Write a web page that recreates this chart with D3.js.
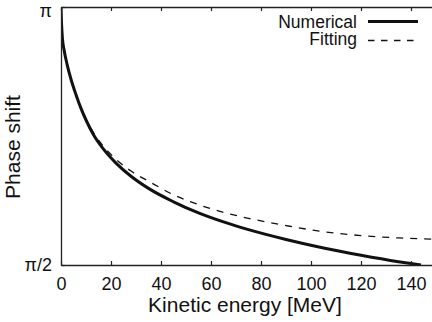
<!DOCTYPE html>
<html>
<head>
<meta charset="utf-8">
<script src="https://cdn.jsdelivr.net/npm/d3@7"></script>
<style>
  body { margin: 0; background: #fff; }
  text { font-family: "Liberation Sans", Arial, sans-serif; fill: #111; }
</style>
</head>
<body>
<div id="chart"></div>
<script>
// values (energy in MeV, phase in rad)
const energyNumerical = [0, 0.2, 0.6, 1.2, 2.5, 4, 6, 8, 10, 13, 17, 22, 28, 35, 45, 55, 65, 75, 90, 105, 120, 135, 144];
const phaseNumerical = [3.1416, 3.0474, 2.9453, 2.8824, 2.7882, 2.7018, 2.6075, 2.5243, 2.4536, 2.3641, 2.2761, 2.1913, 2.1112, 2.0373, 1.9557, 1.8881, 1.8331, 1.7860, 1.7263, 1.6745, 1.6305, 1.5912, 1.5708];

const energyFitting = [0, 0.2, 0.6, 1.2, 2.5, 4, 6, 8, 10, 13, 17, 22, 28, 35, 45, 55, 65, 75, 90, 105, 120, 135, 150];
const phaseFitting = [3.1416, 3.0474, 2.9453, 2.8824, 2.7882, 2.7018, 2.6091, 2.5274, 2.4599, 2.3766, 2.2934, 2.2148, 2.1426, 2.0813, 1.9981, 1.9384, 1.8912, 1.8551, 1.8111, 1.7734, 1.7499, 1.7357, 1.7272];

const xTicks = [0, 20, 40, 60, 80, 100, 120, 140];
const yTicks = [Math.PI / 2, Math.PI];
const yTickLabels = ['π/2', 'π'];

const seriesNames = ['Numerical', 'Fitting'];

const width = 432, height = 322;
const margin = {left: 61, top: 7, right: -4, bottom: 57};

let svg = d3.select('#chart').append('svg')
  .attr('width', width)
  .attr('height', height);

let x = d3.scaleLinear().domain([0, 150]).range([margin.left, width - margin.right]);
let y = d3.scaleLinear().domain([Math.PI / 2, Math.PI]).range([height - margin.bottom, margin.top]);

svg.append('clipPath').attr('id', 'plot')
  .append('rect')
  .attr('x', x(0)).attr('y', y(Math.PI))
  .attr('width', x(150) - x(0)).attr('height', y(Math.PI / 2) - y(Math.PI));

let line = d3.line()
  .x(d => x(d[0]))
  .y(d => y(d[1]))
  .curve(d3.curveMonotoneX);

let numerical = energyNumerical.map((e, i) => [e, phaseNumerical[i]]);
let fitting = energyFitting.map((e, i) => [e, phaseFitting[i]]);

svg.append('path')
  .datum(fitting)
  .attr('clip-path', 'url(#plot)')
  .attr('d', line)
  .style('fill', 'none')
  .style('stroke', '#111')
  .style('stroke-width', 1.3)
  .style('stroke-dasharray', '7,7');

svg.append('path')
  .datum(numerical)
  .attr('clip-path', 'url(#plot)')
  .attr('d', line)
  .style('fill', 'none')
  .style('stroke', '#111')
  .style('stroke-width', 3);

// axes: ticks point inward, mirrored on top
svg.append('g')
  .attr('transform', 'translate(0,' + y(Math.PI / 2) + ')')
  .call(d3.axisBottom(x).tickValues(xTicks).tickSize(-4).tickSizeOuter(0).tickPadding(12));

svg.append('g')
  .attr('transform', 'translate(0,' + y(Math.PI) + ')')
  .call(d3.axisTop(x).tickValues(xTicks).tickSize(-4).tickSizeOuter(0).tickFormat(''));

let left = svg.append('g')
  .attr('transform', 'translate(' + x(0) + ',0)')
  .call(d3.axisLeft(y).tickValues(yTicks).tickSize(-4).tickSizeOuter(0).tickPadding(9)
    .tickFormat((d, i) => yTickLabels[i]));
left.selectAll('.tick text').filter((d, i) => i == 1).attr('dy', '0.5em');

svg.selectAll('.domain').style('stroke', '#222').style('stroke-width', 1.3);
svg.selectAll('.tick line').style('stroke', '#222').style('stroke-width', 1.2);
svg.selectAll('.tick text').style('font-size', '18px').style('fill', '#111');

svg.append('text')
  .text('Kinetic energy [MeV]')
  .attr('x', 245)
  .attr('y', 312)
  .style('text-anchor', 'middle')
  .style('font-size', '21px');

svg.append('text')
  .text('Phase shift')
  .attr('transform', 'translate(20,147) rotate(-90)')
  .style('text-anchor', 'middle')
  .style('font-size', '21px');

// legend
let legend = svg.append('g').attr('transform', 'translate(357,0)');
seriesNames.forEach((name, i) => {
  legend.append('text')
    .text(name)
    .attr('x', 0)
    .attr('y', 28 + i * 17)
    .style('text-anchor', 'end')
    .style('font-size', '17.5px');
  legend.append('line')
    .attr('x1', 11).attr('x2', 61)
    .attr('y1', 21.5 + i * 19).attr('y2', 21.5 + i * 19)
    .style('stroke', '#111')
    .style('stroke-width', i == 0 ? 3 : 1.3)
    .style('stroke-dasharray', i == 0 ? null : '6.5,6.5');
});
</script>
</body>
</html>
